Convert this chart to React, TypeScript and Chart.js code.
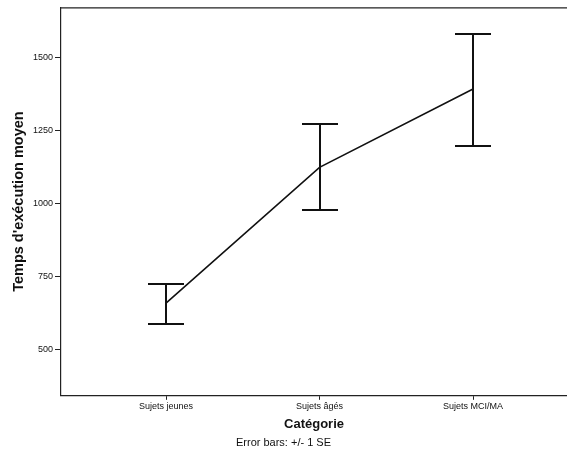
import React, { useEffect, useRef } from "react";
import { Chart, registerables } from "chart.js";

Chart.register(...registerables);

const categories = ["Sujets jeunes", "Sujets âgés", "Sujets MCI/MA"];
const means = [658, 1124, 1393];
const lowerSE = [587, 976, 1198];
const upperSE = [724, 1274, 1583];
const yTicks = [500, 750, 1000, 1250, 1500];

const FONT = "'Liberation Sans', Arial, Helvetica, sans-serif";

const errorBarPlugin = {
  id: "errorBars",
  afterDatasetsDraw(chart: any) {
    const { ctx, scales } = chart;
    const x = scales.x;
    const y = scales.y;
    ctx.save();
    ctx.strokeStyle = "#111";
    ctx.lineWidth = 2;
    categories.forEach((_, i) => {
      const px = Math.round(x.getPixelForValue(i));
      const top = Math.round(y.getPixelForValue(upperSE[i]));
      const bot = Math.round(y.getPixelForValue(lowerSE[i]));
      ctx.beginPath();
      ctx.moveTo(px, top);
      ctx.lineTo(px, bot);
      ctx.moveTo(px - 18, top);
      ctx.lineTo(px + 18, top);
      ctx.moveTo(px - 18, bot);
      ctx.lineTo(px + 18, bot);
      ctx.stroke();
    });
    ctx.restore();
  },
};

const framePlugin = {
  id: "frameTop",
  afterDraw(chart: any) {
    const { ctx, chartArea } = chart;
    ctx.save();
    ctx.strokeStyle = "#222";
    ctx.lineWidth = 1.2;
    ctx.beginPath();
    ctx.moveTo(chartArea.left, chartArea.top + 0.5);
    ctx.lineTo(chartArea.right, chartArea.top + 0.5);
    ctx.stroke();
    ctx.restore();
  },
};

export default function App() {
  const ref = useRef<HTMLCanvasElement | null>(null);

  useEffect(() => {
    if (!ref.current) return;
    const chart = new Chart(ref.current, {
      type: "line",
      data: {
        datasets: [
          {
            label: "Temps d'exécution moyen",
            data: means.map((v, i) => ({ x: i, y: v })),
            borderColor: "#111",
            borderWidth: 1.6,
            pointRadius: 0,
            tension: 0,
          },
        ],
      },
      options: {
        animation: false,
        responsive: false,
        devicePixelRatio: 1,
        layout: { padding: { top: 6, left: 0, right: 0, bottom: 10 } },
        plugins: {
          legend: { display: false },
          tooltip: { enabled: false },
          subtitle: {
            display: true,
            position: "bottom",
            text: "Error bars: +/- 1 SE",
            color: "#111",
            font: { family: FONT, size: 11, weight: "normal" },
            padding: { top: 4, bottom: 0 },
          },
        },
        scales: {
          x: {
            type: "linear",
            min: -0.684,
            max: 2.612,
            afterBuildTicks: (scale: any) => {
              scale.ticks = categories.map((_, i) => ({ value: i }));
            },
            afterFit: (scale: any) => {
              scale.height = 37;
            },
            ticks: {
              callback: (v: any) => categories[v as number] ?? "",
              color: "#111",
              font: { family: FONT, size: 9 },
              padding: 1,
              maxRotation: 0,
              autoSkip: false,
            },
            grid: {
              drawOnChartArea: false,
              drawTicks: true,
              tickLength: 4,
              color: "#222",
            },
            border: { display: true, color: "#222", width: 1.2 },
            title: {
              display: true,
              text: "Catégorie",
              color: "#111",
              font: { family: FONT, size: 13, weight: "bold" },
              padding: { top: 0, bottom: 1 },
            },
          },
          y: {
            type: "linear",
            min: 340,
            max: 1673,
            afterBuildTicks: (scale: any) => {
              scale.ticks = yTicks.map((v) => ({ value: v }));
            },
            afterFit: (scale: any) => {
              scale.width = 61;
            },
            ticks: {
              callback: (v: any) => String(v),
              color: "#111",
              font: { family: FONT, size: 9 },
              padding: 2,
            },
            grid: {
              drawOnChartArea: false,
              drawTicks: true,
              tickLength: 6,
              color: "#222",
            },
            border: { display: true, color: "#222", width: 1.2 },
            title: {
              display: true,
              text: "Temps d'exécution moyen",
              color: "#111",
              font: { family: FONT, size: 14.5, weight: "bold" },
              padding: { top: 10, bottom: 0 },
            },
          },
        },
      },
      plugins: [errorBarPlugin, framePlugin],
    });
    return () => chart.destroy();
  }, []);

  return (
    <div style={{ position: "absolute", left: 0, top: 0, width: 567, height: 460, background: "#fff" }}>
      <canvas ref={ref} width={567} height={460} />
    </div>
  );
}
